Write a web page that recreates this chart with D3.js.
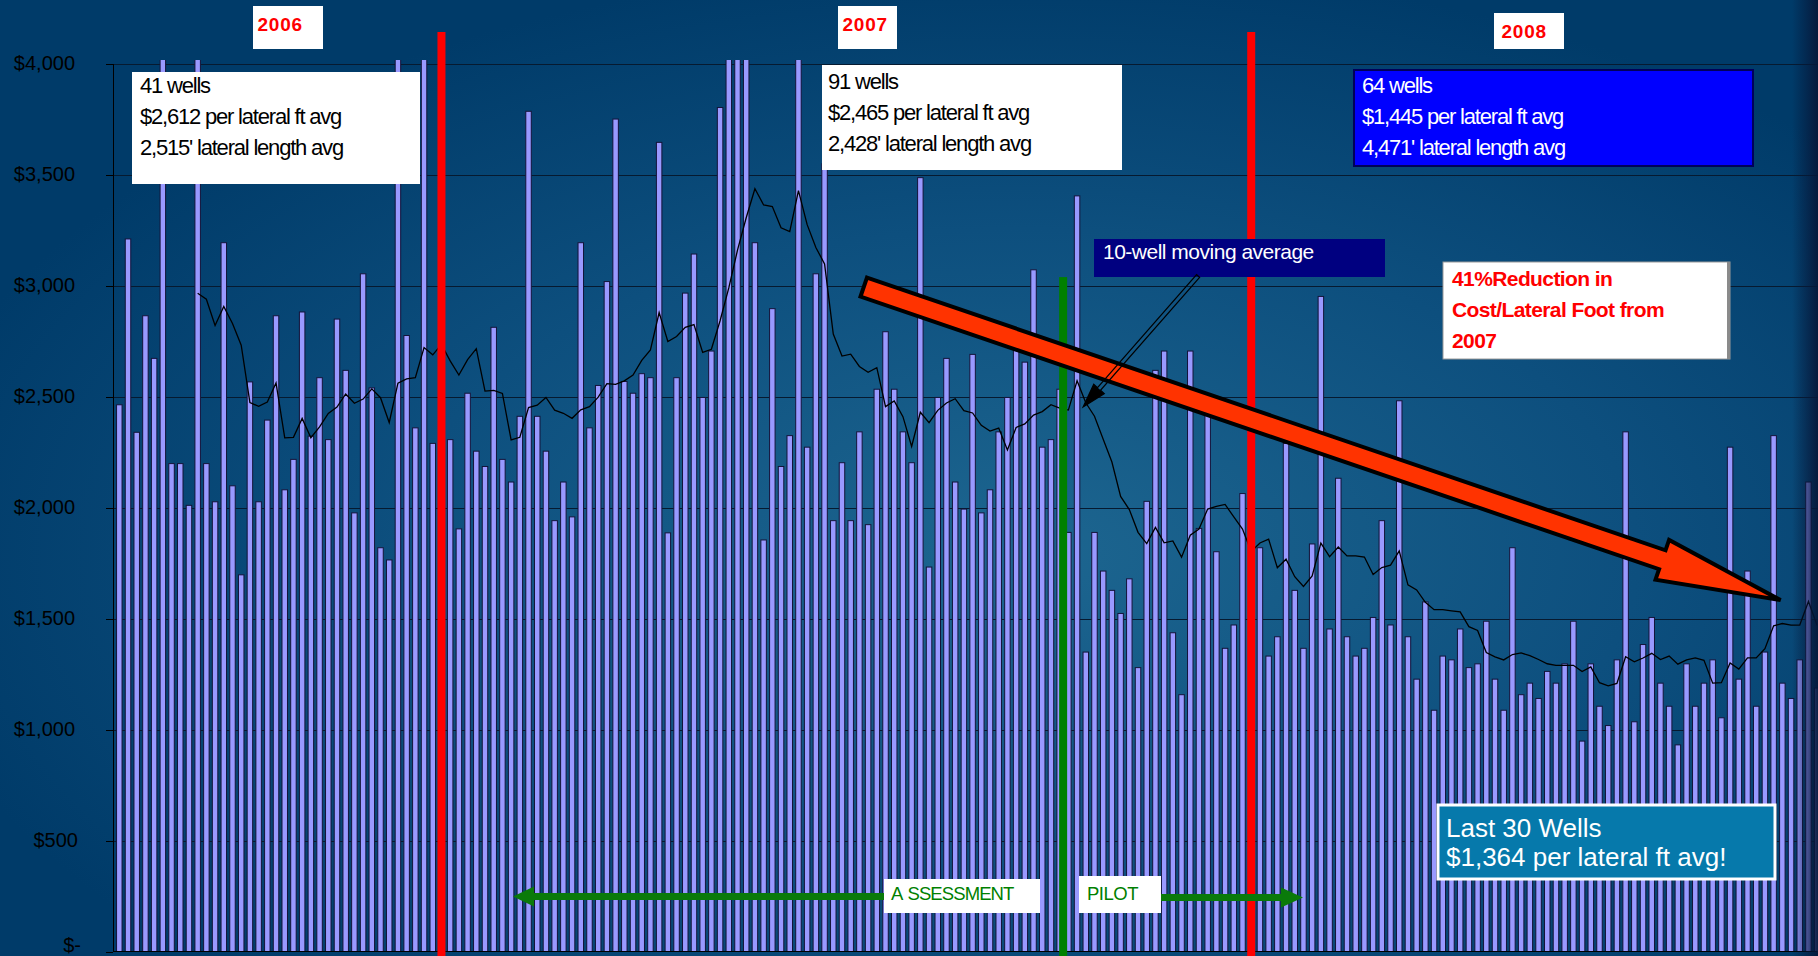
<!DOCTYPE html>
<html>
<head>
<meta charset="utf-8">
<script src="https://cdn.jsdelivr.net/npm/d3@7"></script>
<style>
  html, body { margin: 0; padding: 0; background: #003b69; overflow: hidden; }
  svg { display: block; font-family: "Liberation Sans", Arial, sans-serif; }
</style>
</head>
<body>
<div id="chart"></div>
<script>
// Coste por pie lateral de cada pozo (orden cronológico)
const wellCost = [
  2465, 3212, 2341, 2866, 2674, 5150, 2200, 2200, 2012, 4550,
  2200, 2028, 3195, 2100, 1699, 2568, 2028, 2396, 2866, 2082,
  2219, 2883, 2324, 2587, 2308, 2851, 2620, 1978, 3055, 2541,
  1821, 1766, 4100, 2777, 2361, 4210, 2291, 2450, 2308, 1906,
  2517, 2256, 2187, 2814, 2219, 2117, 2413, 3787, 2413, 2256,
  1943, 2117, 1960, 3195, 2361, 2552, 3020, 3752, 2570, 2517,
  2605, 2587, 3647, 1888, 2587, 2968, 3144, 2498, 2707, 3804,
  4085, 4289, 5103, 3195, 1856, 2898, 2187, 2326, 4550, 2274,
  3055, 3550, 1943, 2204, 1943, 2343, 1925, 2535, 2794, 2535,
  2343, 2204, 3488, 1734, 2498, 2674, 2117, 1995, 2692, 1978,
  2082, 2343, 2498, 2750, 2657, 3073, 2274, 2308, 2535, 1890,
  3406, 1351, 1890, 1716, 1629, 1525, 1681, 1281, 2030, 2620,
  2707, 1438, 1159, 2707, 1908, 2420, 1803, 1368, 1473, 2065,
  1700, 1821, 1333, 1420, 2291, 1629, 1368, 1838, 2953, 1455,
  2134, 1420, 1333, 1368, 1507, 1943, 1473, 2483, 1420, 1229,
  1577, 1089, 1333, 1316, 1455, 1281, 1298, 1490, 1229, 1089,
  1821, 1159, 1211, 1142, 1264, 1211, 1298, 1490, 950, 1298,
  1107, 1020, 1316, 2343, 1037, 1385, 1507, 1211, 1107, 933,
  1298, 1107, 1211, 1316, 1055, 2274, 1229, 1716, 1107, 1351,
  2326, 1211, 1142, 1316, 2117, 1189
];

// Ventana de la media móvil (línea de tendencia de Excel)
const maWindow = 10;

// Marcas del eje Y
const yTicks = [0, 500, 1000, 1500, 2000, 2500, 3000, 3500, 4000];

// Textos
const yearLabels = ["2006", "2007", "2008"];
const box2006Lines = ["41 wells", "$2,612 per lateral ft avg", "2,515' lateral length avg"];
const box2007Lines = ["91 wells", "$2,465 per lateral ft avg", "2,428' lateral length avg"];
const box2008Lines = ["64 wells", "$1,445 per lateral ft avg", "4,471' lateral length avg"];
const reductionLines = ["41%Reduction in", "Cost/Lateral Foot from", "2007"];
const last30Lines = ["Last 30 Wells", "$1,364 per lateral ft avg!"];
const movingAvgLabel = "10-well moving average";
const phaseLabels = ["ASSESSMENT", "PILOT"];

function blockArrow(p0, p1, hw, hh, hl) {
    const dx = p1[0] - p0[0], dy = p1[1] - p0[1];
    const L = Math.hypot(dx, dy);
    const ux = dx / L, uy = dy / L, nx = -uy, ny = ux;
    const bx = p1[0] - ux * hl, by = p1[1] - uy * hl;
    const pt = (x, y, s) => [x + nx * s, y + ny * s];
    return [pt(p0[0], p0[1], -hw), pt(bx, by, -hw), pt(bx, by, -hh), p1,
            pt(bx, by, hh), pt(bx, by, hw), pt(p0[0], p0[1], hw)];
}

function renderChart() {
    const width = 1818;
    const height = 956;
    const plotLeft = 113;

    const svg = d3.select("#chart")
        .append("svg")
        .attr("width", width)
        .attr("height", height);

    const defs = svg.append("defs");

    // Fondo con degradado radial
    const bg = defs.append("radialGradient")
        .attr("id", "bg")
        .attr("cx", "0.56").attr("cy", "0.58").attr("r", "0.62");
    bg.append("stop").attr("offset", "0").attr("stop-color", "#1d6690");
    bg.append("stop").attr("offset", "0.55").attr("stop-color", "#0d4f7e");
    bg.append("stop").attr("offset", "1").attr("stop-color", "#003b69");

    const edge = defs.append("linearGradient")
        .attr("id", "edge")
        .attr("x1", "0").attr("x2", "1").attr("y1", "0").attr("y2", "0");
    edge.append("stop").attr("offset", "0").attr("stop-color", "#06183a").attr("stop-opacity", 0);
    edge.append("stop").attr("offset", "1").attr("stop-color", "#06183a").attr("stop-opacity", 0.95);

    svg.append("rect")
        .attr("width", width)
        .attr("height", height)
        .attr("fill", "url(#bg)");

    // Escalas
    const x = d3.scaleBand()
        .domain(d3.range(wellCost.length))
        .range([114.95, 114.95 + wellCost.length * 8.707])
        .paddingInner(0.37)
        .paddingOuter(0.185);

    const y = d3.scaleLinear()
        .domain([0, 4000])
        .range([952, 64]);

    // Centro de una posición (índice fraccionario) sobre el eje X
    const xc = t => x(0) + x.bandwidth() / 2 + t * x.step();

    defs.append("clipPath")
        .attr("id", "plot-clip")
        .append("rect")
        .attr("x", plotLeft)
        .attr("y", y(4000) - 4)
        .attr("width", width - plotLeft)
        .attr("height", y(0) - y(4000) + 4);

    // Líneas de cuadrícula
    svg.append("g")
        .selectAll("line")
        .data(yTicks.filter(d => d > 0))
        .enter()
        .append("line")
        .attr("x1", plotLeft)
        .attr("x2", width)
        .attr("y1", d => Math.round(y(d)) + 0.5)
        .attr("y2", d => Math.round(y(d)) + 0.5)
        .attr("stroke", "#061a30")
        .attr("stroke-width", 1);

    // Barras
    svg.append("g")
        .attr("clip-path", "url(#plot-clip)")
        .selectAll("rect")
        .data(wellCost)
        .enter()
        .append("rect")
        .attr("x", (d, i) => x(i))
        .attr("y", d => y(d))
        .attr("width", x.bandwidth())
        .attr("height", d => y(0) - y(d))
        .attr("fill", "#9999ff")
        .attr("stroke", "#14143a")
        .attr("stroke-width", 1);

    // Media móvil de 10 pozos
    const maData = wellCost
        .map((v, i) => i >= maWindow - 1
            ? { i: i, v: d3.mean(wellCost.slice(i - maWindow + 1, i + 1)) }
            : null)
        .filter(d => d !== null);

    svg.append("path")
        .datum(maData)
        .attr("fill", "none")
        .attr("stroke", "#000")
        .attr("stroke-width", 1.3)
        .attr("d", d3.line().x(d => xc(d.i)).y(d => y(d.v)));

    // Ejes
    svg.append("line")
        .attr("x1", plotLeft + 0.5).attr("x2", plotLeft + 0.5)
        .attr("y1", y(4000)).attr("y2", y(0))
        .attr("stroke", "#000");
    svg.append("line")
        .attr("x1", plotLeft).attr("x2", width)
        .attr("y1", y(0) - 0.5).attr("y2", y(0) - 0.5)
        .attr("stroke", "#000");

    const yAxis = svg.append("g");
    yAxis.selectAll("line")
        .data(yTicks)
        .enter()
        .append("line")
        .attr("x1", plotLeft - 7).attr("x2", plotLeft)
        .attr("y1", d => Math.round(y(d)) + 0.5)
        .attr("y2", d => Math.round(y(d)) + 0.5)
        .attr("stroke", "#000");
    yAxis.selectAll("text")
        .data(yTicks)
        .enter()
        .append("text")
        .attr("x", d => 75 + (d === 0 ? 6 : d < 1000 ? 3 : 0))
        .attr("y", d => y(d) + (d === 0 ? 0 : 6))
        .attr("text-anchor", "end")
        .attr("font-size", 20)
        .attr("fill", "#000")
        .text(d => d === 0 ? "$-" : "$" + d3.format(",")(d));

    // Marcas verticales: fin de año y comienzo del piloto
    [37, 130].forEach(t => {
        svg.append("rect")
            .attr("x", xc(t) - 4)
            .attr("y", 32)
            .attr("width", 8)
            .attr("height", height - 32)
            .attr("fill", "#ff0000");
    });

    svg.append("rect")
        .attr("x", xc(108.4) - 4)
        .attr("y", y(3040))
        .attr("width", 8)
        .attr("height", height - y(3040))
        .attr("fill", "#008000");

    // Flecha roja de reducción
    const bigArrow = blockArrow([xc(85.5), y(2995)], [xc(190.8), y(1585)], 10, 21, 125);
    svg.append("path")
        .attr("d", d3.line()(bigArrow) + "Z")
        .attr("fill", "#ff3300")
        .attr("stroke", "#000")
        .attr("stroke-width", 4)
        .attr("stroke-linejoin", "miter");

    // Cajas de texto
    function textBox(opts) {
        const g = svg.append("g");
        g.append("rect")
            .attr("x", opts.x).attr("y", opts.y)
            .attr("width", opts.w).attr("height", opts.h)
            .attr("fill", opts.fill)
            .attr("stroke", opts.stroke || "none")
            .attr("stroke-width", opts.strokeWidth || 0);
        g.selectAll("text")
            .data(opts.lines)
            .enter()
            .append("text")
            .attr("x", opts.tx)
            .attr("y", (d, i) => opts.ty + i * opts.lh)
            .attr("font-size", opts.size)
            .attr("font-weight", opts.weight || "normal")
            .attr("letter-spacing", opts.ls || 0)
            .attr("fill", opts.color)
            .text(d => d);
        return g;
    }

    // Etiquetas de año
    const yearBoxes = [
        { x: 253, y: 6, w: 70, h: 43, ty: 30.5 },
        { x: 838, y: 6, w: 59, h: 43, ty: 30.5 },
        { x: 1494, y: 13, w: 70, h: 36, ty: 38 }
    ];
    yearLabels.forEach((label, i) => {
        const b = yearBoxes[i];
        textBox({ x: b.x, y: b.y, w: b.w, h: b.h, fill: "#fff",
            lines: [label], tx: b.x + (i === 2 ? 7.5 : 4.5), ty: b.ty, lh: 0,
            size: 19, weight: "bold", ls: 0.8, color: "#ff0000" });
    });

    textBox({ x: 132, y: 72, w: 288, h: 112, fill: "#fff",
        lines: box2006Lines, tx: 140, ty: 92.5, lh: 31,
        size: 22, ls: -1.2, color: "#000" });

    textBox({ x: 822, y: 65, w: 300, h: 105, fill: "#fff",
        lines: box2007Lines, tx: 828, ty: 88.5, lh: 31,
        size: 22, ls: -1.2, color: "#000" });

    textBox({ x: 1354, y: 70, w: 399, h: 96, fill: "#0000ff",
        stroke: "#00005a", strokeWidth: 2,
        lines: box2008Lines, tx: 1362, ty: 92.5, lh: 31,
        size: 22, ls: -1.2, color: "#fff" });

    textBox({ x: 1094, y: 239, w: 291, h: 38, fill: "#000080",
        lines: [movingAvgLabel], tx: 1103, ty: 259, lh: 0,
        size: 21, ls: -0.5, color: "#fff" });

    textBox({ x: 1443, y: 262, w: 287, h: 97, fill: "#fff",
        stroke: "#9a9a9a", strokeWidth: 1,
        lines: reductionLines, tx: 1452, ty: 286, lh: 31,
        size: 21, weight: "bold", ls: -0.6, color: "#ff0000" });
    svg.append("rect")
        .attr("x", 1727).attr("y", 262).attr("width", 3).attr("height", 97)
        .attr("fill", "#8a8a8a");

    textBox({ x: 1438, y: 805, w: 337, h: 74, fill: "#0679ab",
        stroke: "#fff", strokeWidth: 3,
        lines: last30Lines, tx: 1446, ty: 836.5, lh: 29.5,
        size: 26, color: "#fff" });

    // Flecha fina hacia la media móvil
    const pTail = [xc(123.9), y(3045)];
    const pTip = [xc(110.7), y(2455)];
    svg.append("path")
        .attr("d", d3.line()(blockArrow(pTail, pTip, 2, 7, 24)) + "Z")
        .attr("fill", "none")
        .attr("stroke", "#000")
        .attr("stroke-width", 1.2);
    const headOnly = blockArrow(pTail, pTip, 0, 7, 24).slice(2, 5);
    svg.append("path")
        .attr("d", d3.line()(headOnly) + "Z")
        .attr("fill", "#000");

    // Fases: evaluación y piloto
    svg.append("path")
        .attr("d", d3.line()(blockArrow([886, 896.5], [513, 896.5], 3.5, 10, 21)) + "Z")
        .attr("fill", "#0a7a0a");
    svg.append("path")
        .attr("d", d3.line()(blockArrow([1160, 897.5], [1303, 897.5], 3.5, 10, 22)) + "Z")
        .attr("fill", "#0a7a0a");

    const assess = textBox({ x: 884, y: 879, w: 156, h: 34, fill: "#fff",
        lines: [], tx: 0, ty: 0, lh: 0, size: 19, color: "#008000" });
    const assessText = assess.append("text")
        .attr("x", 891)
        .attr("y", 899.5)
        .attr("font-size", 18.5)
        .attr("letter-spacing", -0.9)
        .attr("fill", "#008000");
    assessText.append("tspan").text(phaseLabels[0].slice(0, 1));
    assessText.append("tspan").attr("dx", 5).text(phaseLabels[0].slice(1));

    textBox({ x: 1079, y: 876, w: 82, h: 37, fill: "#fff",
        lines: [phaseLabels[1]], tx: 1087, ty: 899.5, lh: 0,
        size: 18.5, ls: -0.5, color: "#008000" });

    // Sombra del borde derecho
    svg.append("rect")
        .attr("x", width - 26)
        .attr("y", 0)
        .attr("width", 26)
        .attr("height", height)
        .attr("fill", "url(#edge)");
}

document.addEventListener("DOMContentLoaded", function() {
    renderChart();
});
</script>
</body>
</html>
